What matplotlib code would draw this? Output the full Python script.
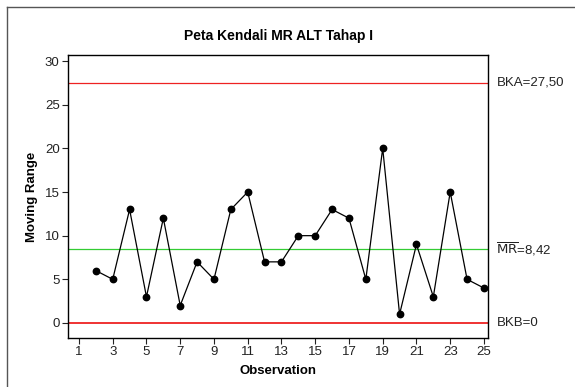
import matplotlib
matplotlib.use("Agg")
import matplotlib.pyplot as plt
from matplotlib.lines import Line2D

plt.rcParams['font.family'] = ['Liberation Sans', 'DejaVu Sans']

observations = list(range(2, 26))
moving_range = [6, 5, 13, 3, 12, 2, 7, 5, 13, 15, 7, 7, 10, 10, 13, 12, 5, 20, 1, 9, 3, 15, 5, 4]
ucl = 27.50
center = 8.42
lcl = 0
xticks = list(range(1, 26, 2))
yticks = [0, 5, 10, 15, 20, 25, 30]

fig = plt.figure(figsize=(5.75, 3.87), dpi=100)
ax = fig.add_axes([68/575, 1-338/387, (488-68)/575, (338-55)/387])

ax.axhline(ucl, color='#ee2222', lw=0.9)
ax.axhline(center, color='#33cc33', lw=0.9)
ax.axhline(lcl, color='#ee2222', lw=1.3)
ax.plot(observations, moving_range, color='black', lw=0.9, marker='o', ms=4.6, mfc='black', mec='black')

ax.set_xlim(0.35, 25.24)
ax.set_ylim(-1.72, 30.69)
ax.set_xticks(xticks)
ax.set_yticks(yticks)
ax.tick_params(direction='out', length=4, width=0.8, labelsize=9.5, colors='#222222', pad=2)
for s in ax.spines.values():
    s.set_linewidth(1.0)
    s.set_color('black')

ax.set_xlabel('Observation', fontsize=9.5, fontweight='bold')
ax.set_ylabel('Moving Range', fontsize=9.5, fontweight='bold')
ax.xaxis.set_label_coords(0.5, -0.095)
ax.yaxis.set_label_coords(-0.072, 0.5)
ax.set_title('Peta Kendali MR ALT Tahap I', fontsize=10, fontweight='bold', pad=11)

ax.text(1.02, ucl, 'BKA=27,50', transform=ax.get_yaxis_transform(), va='center', ha='left', fontsize=9.5, color='#222222')
ax.text(1.02, center, r'$\overline{\mathrm{MR}}$=8,42', transform=ax.get_yaxis_transform(), va='center', ha='left', fontsize=9.5, color='#222222')
ax.text(1.02, lcl, 'BKB=0', transform=ax.get_yaxis_transform(), va='center', ha='left', fontsize=9.5, color='#222222')

# outer frame lines
fig.add_artist(Line2D([7/575, 7/575], [0, 1-7/387], transform=fig.transFigure, color='#555555', lw=1))
fig.add_artist(Line2D([7/575, 1], [1-7/387, 1-7/387], transform=fig.transFigure, color='#555555', lw=1))

fig.savefig('out.png', dpi=100)
